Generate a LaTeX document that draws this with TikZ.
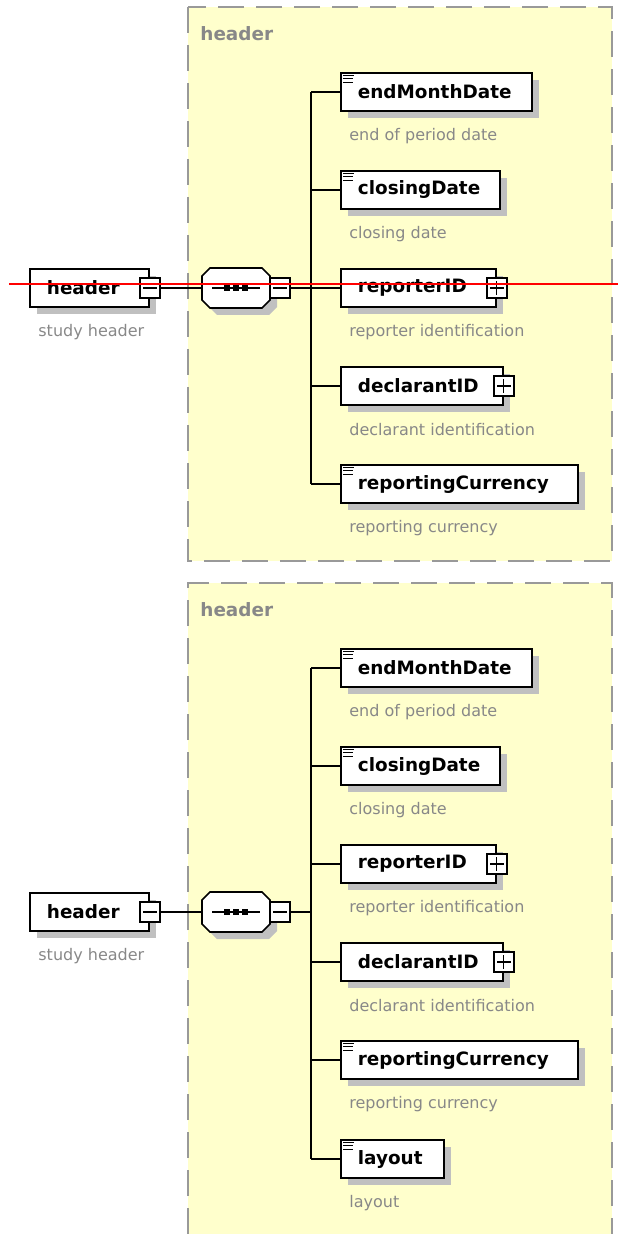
\documentclass[tikz,border=0pt]{standalone}
\usepackage{fontspec}
\setmainfont{DejaVu Sans}
\usepackage{xcolor}
\usepackage{tikz}
\usetikzlibrary{shapes,shadows}

\definecolor{panelfill}{HTML}{FFFFCC}
\definecolor{panelline}{HTML}{999999}
\definecolor{shadowgray}{HTML}{C0C0C0}
\definecolor{notegray}{HTML}{888888}

\begin{document}
\begin{tikzpicture}[x=0.5pt,y=-0.5pt,
  elem/.style={draw=black,line width=0.9pt,fill=white,anchor=west,align=left,
    inner xsep=8.5pt,inner ysep=0pt,minimum height=19pt,
    font=\fontsize{9.2}{11}\selectfont\bfseries,
    drop shadow={shadow xshift=3.5pt,shadow yshift=-3.5pt,opacity=1,fill=shadowgray}},
  note/.style={anchor=west,inner sep=0pt,text=notegray,font=\fontsize{8}{10}\selectfont},
  paneltitle/.style={anchor=west,inner sep=0pt,text=notegray,font=\fontsize{9.2}{11}\selectfont\bfseries},
  toggle/.style={draw=black,line width=0.7pt,fill=white,minimum size=10pt,inner sep=0pt},
  seqnode/.style={inner sep=0pt,minimum width=34pt,minimum height=20pt},
  wire/.style={line width=0.8pt},
  panel/.style={draw=panelline,line width=1pt,dash pattern=on 13pt off 6pt}]
\useasboundingbox (0,0) rectangle (618,1234);

% Group panels
\fill[panelfill] (188,7) rectangle (612,561);
\draw[panel] (188,7) rectangle (612,561);
\fill[panelfill] (188,583) rectangle (612,1234);
\draw[panel] (188,1234) -- (188,583) -- (612,583) -- (612,1234);
\node[paneltitle] (tlab) at (200,34) {header};
\node[paneltitle] (blab) at (200,610) {header};

% Header element and its sequence compositor
\foreach \p/\py in {t/288, b/912} {
  \node[elem,text width=42.5pt] (head\p) at (29,\py) {header};
  \node[note] (head\p-d) at ([shift={(9,44)}]head\p.west) {study header};
  \node[toggle] (head\p-x) at (head\p.east) {};
  \draw[line width=0.6pt] ([xshift=2pt]head\p-x.west) -- ([xshift=-2pt]head\p-x.east);
  % compositor
  \fill[shadowgray,shift={(7,7)}] (210,\py-20) -- (262,\py-20) -- (270,\py-12) -- (270,\py+12)
    -- (262,\py+20) -- (210,\py+20) -- (202,\py+12) -- (202,\py-12) -- cycle;
  \draw[wire,fill=white] (210,\py-20) -- (262,\py-20) -- (270,\py-12) -- (270,\py+12)
    -- (262,\py+20) -- (210,\py+20) -- (202,\py+12) -- (202,\py-12) -- cycle;
  \node[seqnode] (seq\p) at (236,\py) {};
  \draw[wire] (212,\py) -- (260,\py);
  \foreach \dx in {-9,0,9}
    \fill (236+\dx-3,\py-3) rectangle ++(6,6);
  \node[toggle] (seq\p-x) at (280,\py) {};
  \draw[line width=0.6pt] ([xshift=2pt]seq\p-x.west) -- ([xshift=-2pt]seq\p-x.east);
  \draw[wire] (head\p-x.east) -- (seq\p.west);
  \coordinate (bus\p) at (311,\py);
  \draw[wire] (seq\p-x.east) -- (bus\p);
}

% Child elements
\foreach \n/\y/\w/\t/\d in {tA/92/191/endMonthDate/end of period date,
    tB/190/159/closingDate/closing date,
    tC/288/155/reporterID/reporter identification,
    tD/386/162/declarantID/declarant identification,
    tE/484/237/reportingCurrency/reporting currency,
    bA/668/191/endMonthDate/end of period date,
    bB/766/159/closingDate/closing date,
    bC/864/155/reporterID/reporter identification,
    bD/962/162/declarantID/declarant identification,
    bE/1060/237/reportingCurrency/reporting currency,
    bF/1159/103/layout/layout} {
  \pgfmathsetmacro{\tw}{(\w-34)*0.5}
  \node[elem,text width=\tw pt] (\n) at (340,\y) {\t};
  \node[note] (\n-d) at ([shift={(9,44)}]\n.west) {\d};
}

% Bus lines
\draw[wire] (bust |- tA.west) -- (bust |- tE.west);
\foreach \n in {tA,tB,tC,tD,tE}
  \draw[wire] (bust |- \n.west) -- (\n.west);
\draw[wire] (busb |- bA.west) -- (busb |- bF.west);
\foreach \n in {bA,bB,bC,bD,bE,bF}
  \draw[wire] (busb |- \n.west) -- (\n.west);

% Simple content icons
\foreach \n in {tA,tB,tE,bA,bB,bE,bF} {
  \draw[line width=0.5pt] ([shift={(3,3)}]\n.north west) -- ++(11,0);
  \draw[line width=0.5pt] ([shift={(3,6.5)}]\n.north west) -- ++(10,0);
  \draw[line width=0.5pt] ([shift={(3,10)}]\n.north west) -- ++(10,0);
}

% Expand buttons
\foreach \n in {tC,tD,bC,bD} {
  \node[toggle] (\n-x) at (\n.east) {};
  \draw[line width=0.6pt] ([xshift=2pt]\n-x.west) -- ([xshift=-2pt]\n-x.east);
  \draw[line width=0.6pt] ([yshift=-2pt]\n-x.north) -- ([yshift=2pt]\n-x.south);
}

% Red marker line
\coordinate (redL) at (9,284);
\coordinate (redR) at (618,284);
\draw[red,line width=0.8pt] (redL) -- (redR);
\end{tikzpicture}
\end{document}
